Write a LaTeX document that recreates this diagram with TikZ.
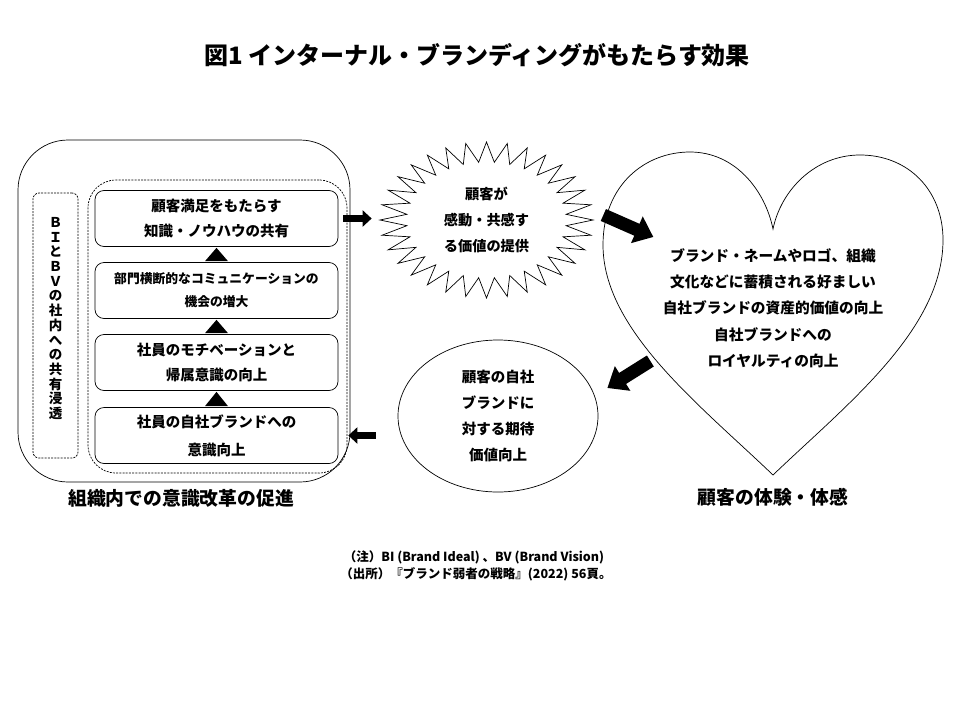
\documentclass[tikz,border=0pt]{standalone}
\usepackage{fontspec}
\setmainfont{Noto Sans CJK JP}
\usetikzlibrary{arrows.meta, shapes.geometric, calc, positioning}
\newcommand{\jpsize}[2]{\bfseries\fontsize{#1}{#2}\selectfont}

\tikzset{
  stagebox/.style={draw, rounded corners=9pt, minimum width=243pt, minimum height=56pt,
    inner sep=0pt, align=center, font=\jpsize{14.5}{25}},
  dashbox/.style={draw, dash pattern=on 2pt off 1.2pt},
  blockarrow/.style={line width=7.5pt, -{Triangle[length=9pt,width=16pt]}},
  widearrow/.style={line width=13pt, -{Triangle[length=18pt,width=28pt]}},
}

\begin{document}
\begin{tikzpicture}[x=1pt, y=-1pt, line width=0.7pt]
\useasboundingbox (0,0) rectangle (960,720);

\node[font=\jpsize{24}{24}] (title) at (477,55) {図1 インターナル・ブランディングがもたらす効果};

% organisation side
\node[draw, rounded corners=50pt, minimum width=332pt, minimum height=342pt] (org) at (184,311) {};
\node[dashbox, rounded corners=28pt, minimum width=259pt, minimum height=293pt] (stack) at (217.5,326.5) {};
\node[dashbox, rounded corners=6pt, minimum width=45pt, minimum height=265pt] (bibv) at (55.5,325.5) {};
\node[align=center, inner sep=0pt, font=\jpsize{13.5}{14.7}] at ($(bibv.center)+(0,-7)$)
  {Ｂ\\Ｉ\\と\\Ｂ\\Ｖ\\の\\社\\内\\へ\\の\\共\\有\\浸\\透};

\node[stagebox] (b1) at (216.5,218.5) {顧客満足をもたらす\\知識・ノウハウの共有};
\node[stagebox, font=\jpsize{12.8}{23}] (b2) at (216.5,290.5) {部門横断的なコミュニケーションの\\機会の増大};
\node[stagebox] (b3) at (216.5,362.5) {社員のモチベーションと\\帰属意識の向上};
\node[stagebox, font=\jpsize{14.5}{28}] (b4) at (216.5,435.5) {社員の自社ブランドへの\\意識向上};

\foreach \lo/\hi in {b2/b1, b3/b2, b4/b3}
  \fill ($(\lo.north)+(-11.5,-1)$) -- ($(\lo.north)+(11.5,-1)$) -- ($(\hi.south)+(0,1)$) -- cycle;

\node[font=\jpsize{18.8}{20}] (orglabel) at (181,498) {組織内での意識改革の促進};

% customer side
\node[ellipse, minimum width=213pt, minimum height=156pt, inner sep=0pt, align=center,
  font=\jpsize{14.2}{26}] (star) at (486.5,220) {顧客が\\感動・共感す\\る価値の提供};
\draw[shift={(star.center)}] plot[samples=65, domain=0:64, variable=\k]
  ({(mod(\k,2)==0 ? 106.5 : 80)*cos(\k*5.625)}, {(mod(\k,2)==0 ? 78 : 58)*sin(\k*5.625)}) -- cycle;

\node[align=center, font=\jpsize{14.7}{26.3}] (heart) at (773,308)
  {ブランド・ネームやロゴ、組織\\文化などに蓄積される好ましい\\自社ブランドの資産的価値の向上\\自社ブランドへの\\ロイヤルティの向上};
\draw (773,475)
  .. controls (700,405) and (603,330) .. (603,245)
  .. controls (603,185) and (645,152) .. (690,152)
  .. controls (735,152) and (765,190) .. (773,229)
  .. controls (781,190) and (815,155) .. (860,155)
  .. controls (908,155) and (943,190) .. (943,240)
  .. controls (943,330) and (846,405) .. (773,475) -- cycle;
\node[font=\jpsize{18.8}{20}] (heartlabel) at (773,497) {顧客の体験・体感};

\node[draw, ellipse, minimum width=200pt, minimum height=152pt, inner sep=0pt, align=center,
  font=\jpsize{14.5}{26}] (expect) at (498,416) {顧客の自社\\ブランドに\\対する期待\\価値向上};

% arrows
\draw[blockarrow, shorten <=5pt, shorten >=8pt] (b1.east) -- (b1.east -| star.west);
\draw[widearrow] ($(star.east)+(10,-5)$) -- ($(star.east)+(60,17)$);
\draw[widearrow] ($(expect.east)+(52,-55)$) -- ($(expect.east)+(9,-28)$);
\draw[blockarrow, shorten <=22pt, shorten >=10pt] (b4.east -| expect.west) -- (b4.east);

% notes
\node[font=\jpsize{12.5}{14}] (note) at (474,557) {（注）BI (Brand Ideal) 、BV (Brand Vision)};
\node[font=\jpsize{12.5}{14}] (source) at (476,574) {（出所）『ブランド弱者の戦略』(2022) 56頁。};
\end{tikzpicture}
\end{document}
